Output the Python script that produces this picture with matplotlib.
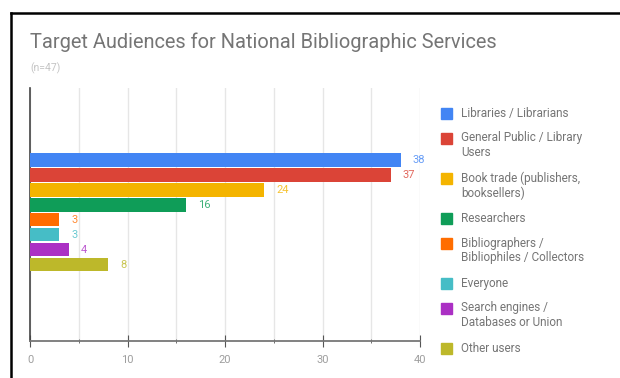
import matplotlib.pyplot as plt
from matplotlib.lines import Line2D
from matplotlib.patches import Rectangle
from matplotlib.ticker import MultipleLocator

plt.rcParams['font.family'] = ['Roboto', 'DejaVu Sans']

audiences = [
    "Libraries / Librarians",
    "General Public / Library\nUsers",
    "Book trade (publishers,\nbooksellers)",
    "Researchers",
    "Bibliographers /\nBibliophiles / Collectors",
    "Everyone",
    "Search engines /\nDatabases or Union",
    "Other users",
]
counts = [38, 37, 24, 16, 3, 3, 4, 8]
colors = ["#4285F4", "#DB4437", "#F4B400", "#0F9D58",
          "#FF6D00", "#46BDC6", "#AB30C4", "#BDB82A"]

W, H = 620, 378
fig = plt.figure(figsize=(W / 100, H / 100), dpi=100)
ax = fig.add_axes([30 / W, 37 / H, 390 / W, 253 / H])

for i, (val, c) in enumerate(zip(counts, colors)):
    ax.barh(i, val, height=0.87, color=c, zorder=3)
    ax.annotate(str(val), (val, i), xytext=(12, 0), textcoords='offset pixels',
                ha='left', va='center', color=c, fontsize=8, alpha=0.8)

ax.set_xlim(0, 40)
ax.set_ylim(12.07, -4.8)
ax.set_yticks([])
ax.xaxis.set_major_locator(MultipleLocator(10))
ax.xaxis.set_minor_locator(MultipleLocator(5))
ax.grid(axis='x', which='both', color='#e6e6e6', linewidth=1, zorder=0)
for s in ['top', 'right']:
    ax.spines[s].set_visible(False)
ax.spines['left'].set_color('#444444')
ax.spines['left'].set_linewidth(1.2)
ax.spines['bottom'].set_color('#777777')
ax.spines['bottom'].set_linewidth(1.3)
ax.tick_params(axis='x', which='major', direction='inout', length=8,
               color='#555555', labelcolor='#9e9e9e', labelsize=8, pad=6)
ax.tick_params(axis='x', which='minor', direction='inout', length=3,
               color='#555555')

# legend drawn by hand so the swatch sits next to the first line of each label
y = 113
line_h, entry_gap = 15, 25
for lab, c in zip(audiences, colors):
    fig.add_artist(Rectangle(((441) / W, 1 - (y + 5.5) / H), 11 / W, 11 / H,
                             transform=fig.transFigure, color=c))
    lines = lab.split('\n')
    for k, ln in enumerate(lines):
        fig.text(461 / W, 1 - (y + k * line_h) / H, ln, fontsize=8.5,
                 color='#757575', ha='left', va='center')
    y += (len(lines) - 1) * line_h + entry_gap

fig.text(30 / W, 1 - 42 / H, "Target Audiences for National Bibliographic Services",
         fontsize=14.4, color='#757575', va='center', ha='left')
fig.text(30 / W, 1 - 68 / H, "(n=47)", fontsize=7.5, color='#c4c4c4',
         va='center', ha='left')

# frame edges at the top and left
fig.add_artist(Line2D([10.5 / W, 10.5 / W], [0, 1 - 13 / H],
                      transform=fig.transFigure, color='black', linewidth=1.8))
fig.add_artist(Line2D([10.5 / W, 1], [1 - 13 / H, 1 - 13 / H],
                      transform=fig.transFigure, color='black', linewidth=1.8))

fig.savefig('out.png', dpi=100)
